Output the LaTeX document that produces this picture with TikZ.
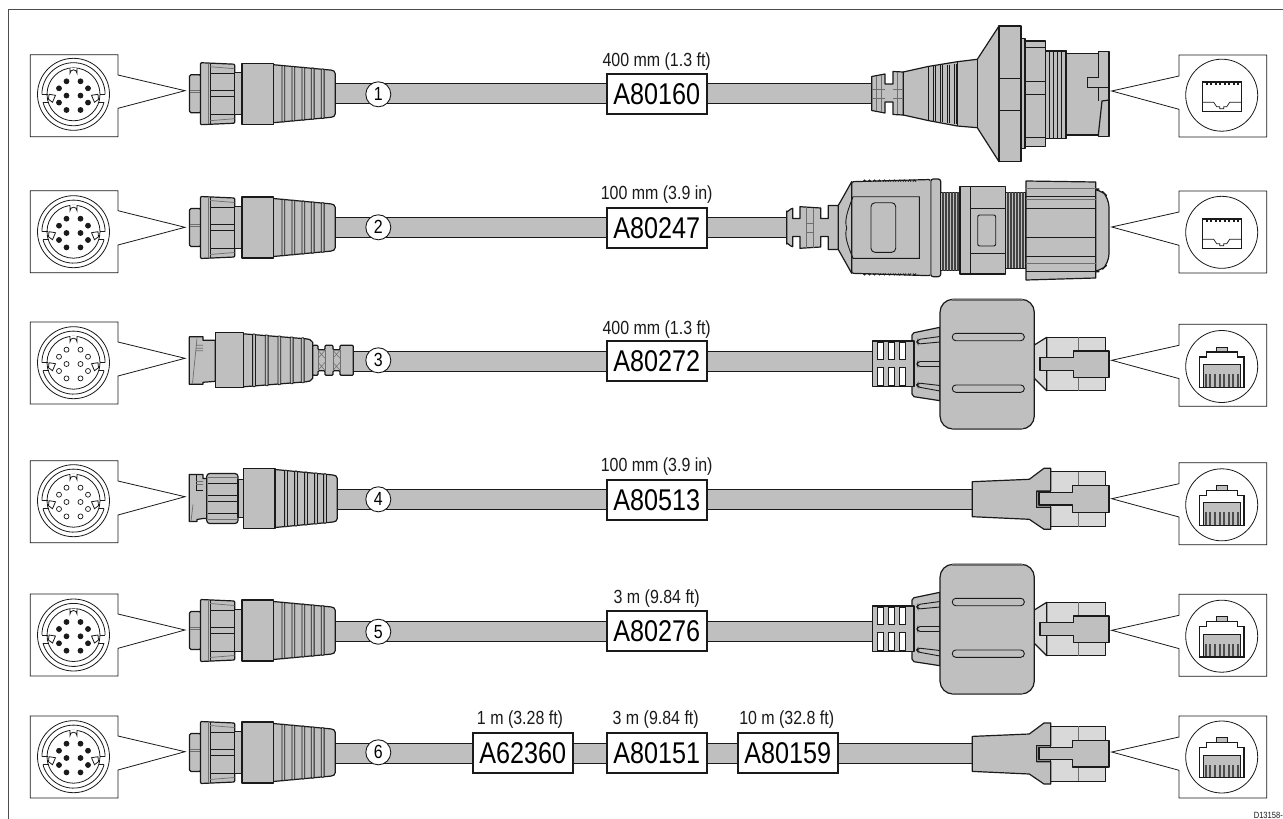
\documentclass[tikz,border=0pt]{standalone}
\usepackage{fontspec}
\setmainfont[FakeStretch=0.84]{Liberation Sans}
\definecolor{gbody}{HTML}{BFBFBF}
\definecolor{glight}{HTML}{D9D9D9}
\definecolor{gdark}{HTML}{6E6E6E}
\definecolor{ink}{HTML}{1A1A1A}
\tikzset{
  body/.style={draw=ink,fill=gbody,line width=1.2pt,line join=round},
  lightbody/.style={draw=ink,fill=glight,line width=1.2pt,line join=round},
  ln/.style={draw=ink,line width=.9pt},
  thn/.style={draw=gdark,line width=.7pt},
  insetline/.style={draw=ink,line width=.8pt,fill=white,line join=miter},
  partbox/.style={draw=ink,fill=white,line width=1.8pt,minimum width=100,minimum height=40,inner sep=0,font=\fontsize{30}{30}\selectfont},
  lenlabel/.style={inner sep=0,font=\fontsize{19}{19}\selectfont,text=ink},
  numcirc/.style={circle,draw=ink,fill=white,line width=.9pt,minimum size=25,inner sep=0,font=\fontsize{19}{19}\selectfont},
  cableo/.style={draw=ink,line width=21pt},
  cablei/.style={draw=gbody,line width=19pt}
}
% female inset: top, circle y, tip y, notch1, notch2, pin fill
\newcommand{\FemInset}[6]{
  \path[insetline] (30.3,#1) -- (118,#1) -- (118,#4) -- (185,#3) -- (118,#5) -- (118,#1+82) -- (30.3,#1+82) -- cycle;
  \begin{scope}[shift={(73.5,#2)}]
    \draw[ink,line width=.8pt] (0,0) circle [radius=36];
    \draw[ink,line width=.8pt] (-31.6,0) arc [start angle=180,end angle=360,radius=31.6];
    \draw[ink,line width=.8pt] (-30.5,8) arc [start angle=165,end angle=15,radius=31.6];
    \draw[ink,line width=.8pt] (-31.6,0) -- (-26,0) (31.6,0) -- (26,0) (-30.5,8) -- (-25,8) (30.5,8) -- (25,8);
    \draw[ink,line width=.8pt] (0,0) circle [radius=26.5];
    \path[fill=white,draw=ink,line width=.8pt] (-24.5,0) -- (-18,1) -- (-21,8) -- (-25,5) -- cycle;
    \path[fill=white,draw=ink,line width=.8pt] (24.5,0) -- (18,1) -- (21,8) -- (25,5) -- cycle;
    \path[fill=white,draw=ink,line width=.8pt] (-3.5,-26.5) -- (-3.5,-21) arc [start angle=180,end angle=360,radius=3.5] -- (3.5,-26.5);
    \foreach \px/\py in {-7/-13,7/-13,-14.5/-6,14.5/-6,-7/1.3,7/1.3,-14.5/8.3,14.5/8.3,-7/15.7,7/15.7}
      \path[draw=ink,line width=.7pt,fill=#6] (\px,\py) circle [radius=2.5];
  \end{scope}
}
% right inset frame: top
\newcommand{\RightFrame}[1]{
  \path[insetline] (1266.7,#1) -- (1179,#1) -- (1179,#1+21) -- (1111.7,#1+36) -- (1179,#1+54.3) -- (1179,#1+82) -- (1266.7,#1+82) -- cycle;
}
% white port inset: top, circle y
\newcommand{\PortA}[2]{
  \RightFrame{#1}
  \begin{scope}[shift={(1221.7,#2)}]
    \draw[ink,line width=.8pt] (0,0) circle [radius=36];
    \draw[ink,line width=1pt,fill=white] (-19,-14) rectangle (19.5,16);
    \fill[ink] (-19,-14) rectangle (19.5,-12);
    \foreach \t in {-16,-11.5,-7,-2.5,2,6.5,11,15.5} \fill[ink] (\t,-12) rectangle (\t+2.2,-10);
    \draw[ink,line width=.7pt] (-19,7) -- (-8,7) -- (-5,11.5) -- (-2,11.5) -- (-2,13.5) -- (2,13.5) -- (2,11.5) -- (5,11.5) -- (8,7) -- (19.5,7);
  \end{scope}
}
% RJ45 plug inset: top, circle y
\newcommand{\PortB}[2]{
  \RightFrame{#1}
  \begin{scope}[shift={(1221.7,#2)}]
    \draw[ink,line width=.8pt] (0,0) circle [radius=36];
    \path[draw=ink,fill=gbody,line width=.8pt] (-5,-19.5) rectangle (5.7,-14);
    \path[draw=ink,fill=white,line width=1.3pt,line join=miter] (-22.3,20.7) -- (-22.3,-9.5) -- (-15,-9.5) -- (-15,-14.5) -- (15.7,-14.5) -- (15.7,-9.5) -- (22.3,-9.5) -- (22.3,20.7) -- cycle;
    \fill[gbody] (-18.3,-2) rectangle (18.3,20);
    \draw[ink,line width=.7pt] (-18.3,20) -- (-18.3,-2) -- (18.3,-2) -- (18.3,20);
    \foreach \t in {-17,-12.4,-7.8,-3.2,1.4,6,10.6,15.2}
      \fill[gdark!70!black] (\t,7.5) rectangle (\t+2,20);
    \draw[ink,line width=1.3pt] (-22.3,20.7) -- (22.3,20.7);
  \end{scope}
}
% ribs of strain boot
\newcommand{\Rib}[2]{
  \path[draw=ink,fill=gbody,line width=.8pt,rounded corners=.8] (#1-1.4,-#2-.8) rectangle (#1+1.4,#2+.8);
}
% plug type A at centre y
\newcommand{\PlugA}[1]{
  \begin{scope}[shift={(0,#1)}]
    \path[body,rounded corners=1.5] (201,-19) -- (189.5,-19) -- (189.5,19) -- (201,19) -- cycle;
    \draw[thn] (189.5,-3.5) -- (200,-3.5) (189.5,-1) -- (200,-1);
    \path[body,rounded corners=1] (200.5,-31) -- (234.7,-29.5) -- (234.7,29.5) -- (200.5,31) -- cycle;
    \draw[ln] (210,-30.5) -- (210,30.5);
    \draw[thn,line width=1.4pt] (208.6,-30) -- (208.6,30);
    \draw[ln] (210,-20.5) -- (234.5,-20.5) (210,-3) -- (234.5,-3) (210,3) -- (234.5,3) (210,20.5) -- (234.5,20.5);
    \draw[thn] (210,-27) -- (234.5,-25) (210,27) -- (234.5,25);
    \path[body] (234.7,-21) rectangle (242,21);
    \path[body] (273.3,-29) -- (331,-23.6) to[out=0,in=90] (335.3,-20) -- (335.3,20) to[out=-90,in=0] (331,23.6) -- (273.3,29) -- cycle;
    \path[body] (242,-30.5) rectangle (273.3,30.5);
    \Rib{283.3}{27.4}\Rib{293.3}{26.5}\Rib{303.3}{25.6}\Rib{312.7}{24.8}\Rib{322.7}{23.9}
  \end{scope}
}
% plug type B
\newcommand{\PlugB}[1]{
  \begin{scope}[shift={(0,#1)}]
    \path[body] (189.3,-23.5) -- (203,-23.5) -- (203,-20) -- (215.3,-20) -- (215.3,21) -- (203,22) -- (203,24) -- (189.3,24) -- cycle;
    \draw[thn] (197,-22) -- (192.5,23) (196,-15) -- (203,-15) (196,-12) -- (203,-12) (196,-9.5) -- (203,-9.5);
    \path[body] (243.3,-26.5) -- (306,-21.5) to[out=0,in=120] (312.7,-18) -- (312.7,18) to[out=-120,in=0] (306,21.5) -- (243.3,26.5) -- cycle;
    \path[body] (215.3,-27.5) rectangle (243.3,27.5);
    \Rib{254}{25.6}\Rib{266.7}{24.6}\Rib{279.3}{23.6}\Rib{291.7}{22.6}\Rib{302.7}{21.7}
    \path[body,rounded corners=1] (312.7,-15) -- (318,-15) -- (318,-10.5) -- (325,-10.5) -- (325,-15) -- (333,-15) -- (333,-10.5) -- (340,-10.5) -- (340,-15) -- (353.3,-15) -- (353.3,15) -- (340,15) -- (340,10.5) -- (333,10.5) -- (333,15) -- (325,15) -- (325,10.5) -- (318,10.5) -- (318,15) -- (312.7,15) -- cycle;
    \draw[thn,line width=.5pt] (318,-10) -- (325,-2) (325,-10) -- (318,-2) (318,2) -- (325,10) (325,2) -- (318,10);
    \draw[thn,line width=.5pt] (333,-10) -- (340,-2) (340,-10) -- (333,-2) (333,2) -- (340,10) (340,2) -- (333,10);
    \draw[thn] (318,-10.5) -- (318,10.5) (325,-10.5) -- (325,10.5) (333,-10.5) -- (333,10.5) (340,-10.5) -- (340,10.5);
  \end{scope}
}
% plug type C
\newcommand{\PlugC}[1]{
  \begin{scope}[shift={(0,#1)}]
    \path[body] (189.3,-24) -- (203,-24) -- (203,-20) -- (207,-20) -- (207,20) -- (203,20) -- (197,21) -- (197,23) -- (189.3,23) -- cycle;
    \draw[ln] (196,-24) -- (196,-8) -- (203,-8);
    \draw[thn] (196,-17) -- (203,-17) (196,-14) -- (203,-14) (193,6) -- (191,23);
    \path[body,rounded corners=3] (206.7,-25) rectangle (238,25);
    \draw[ln] (207.5,-15) -- (237,-15) (207.5,-3) -- (237,-3) (207.5,3) -- (237,3) (207.5,15) -- (237,15);
    \draw[thn] (207.5,-21) -- (237,-21) (207.5,21) -- (237,21);
    \path[body] (238,-19) rectangle (243.3,19);
    \path[body] (275,-29) -- (333,-23.5) to[out=0,in=90] (337.3,-20) -- (337.3,20) to[out=-90,in=0] (333,23.5) -- (275,29) -- cycle;
    \path[body] (243.3,-30.3) rectangle (275,30.3);
    \Rib{286}{27.5}\Rib{296}{26.6}\Rib{306}{25.6}\Rib{316}{24.7}\Rib{325}{23.9}
  \end{scope}
}
% ferrite + RJ45 (coordinates of row 3, shifted)
\newcommand{\Ferrite}[1]{
  \begin{scope}[shift={(0,#1)}]
    \path[lightbody] (1046.7,337.3) -- (1105.7,337.3) -- (1105.7,390.7) -- (1046.7,390.7) -- cycle;
    \path[lightbody] (1034.3,345) -- (1046.7,337.3) -- (1046.7,390.7) -- (1034.3,378.3) -- cycle;
    \draw[thn] (1078.7,337.3) -- (1078.7,390.7);
    \path[body] (1040,357.7) -- (1073.3,357.7) -- (1073.3,351) -- (1109,351) -- (1109,377.7) -- (1073.3,377.7) -- (1073.3,370.7) -- (1040,370.7) -- cycle;
    \path[body] (914,332.7) -- (940,327.3) -- (940,400.7) -- (914,396.7) -- (912,394) -- (912,335) -- cycle;
    \path[body] (872.3,341) rectangle (914,386.7);
    \foreach \xx in {877.3,888.3,899.3}{
      \path[draw=ink,fill=white,line width=.8pt] (\xx,342.7) rectangle (\xx+6,359.3);
      \path[draw=ink,fill=white,line width=.8pt] (\xx,367.3) rectangle (\xx+6,385);
    }
    \path[draw=ink,line width=.9pt,rounded corners=2] (940,336.5) -- (918,339.5) -- (917,342) -- (918,344) -- (940,342);
    \path[draw=ink,line width=.9pt,rounded corners=2] (940,361.5) -- (918,361.5) -- (917,364) -- (918,366.5) -- (940,366.5);
    \path[draw=ink,line width=.9pt,rounded corners=2] (940,391) -- (918,387) -- (917,385) -- (918,383) -- (940,385.5);
    \path[body,rounded corners=13] (940,299.3) -- (1034.3,299.3) -- (1034.3,429) -- (940,429) -- cycle;
    \draw[thn,line width=1.2pt] (952,300) -- (1023,300) (952,428.3) -- (1023,428.3);
    \path[draw=ink,fill=gbody,line width=.9pt,rounded corners=3.5] (952.3,333.3) rectangle (1024.3,340.7);
    \path[draw=ink,fill=gbody,line width=.9pt,rounded corners=3.5] (952.3,385) rectangle (1024.3,392.3);
  \end{scope}
}
% overmould RJ45 (coordinates of row 4, shifted)
\newcommand{\Moulded}[1]{
  \begin{scope}[shift={(0,#1)}]
    \path[lightbody] (1046,471.7) -- (1105.7,471.7) -- (1105.7,526.7) -- (1046,526.7) -- cycle;
    \draw[thn] (1078,471.7) -- (1078,526.7);
    \path[body] (972.3,481.7) -- (1029.3,479.3) -- (1044,468.3) -- (1050.7,468.3) -- (1050.7,491) -- (1036.7,491) -- (1036.7,507) -- (1050.7,507) -- (1050.7,529.3) -- (1044,529.3) -- (1029.3,519.3) -- (972.3,516.7) -- cycle;
    \path[fill=gdark!60!gbody,draw=ink,line width=.8pt] (1036.7,491) -- (1050.7,491) -- (1050.7,507) -- (1036.7,507) -- cycle;
    \path[body] (1039,492.7) -- (1072.3,492.7) -- (1072.3,485.7) -- (1109,485.7) -- (1109,512.3) -- (1072.3,512.3) -- (1072.3,505) -- (1039,505) -- cycle;
  \end{scope}
}
\begin{document}
\begin{tikzpicture}[x=1pt,y=-1pt]
\useasboundingbox (0,0) rectangle (1283,819);
\fill[white] (0,0) rectangle (1283,819);
\draw[gdark!70!black,line width=1.5pt] (8.5,819) -- (8.5,9.5) -- (1283,9.5);

% cable end coordinates
\coordinate (c1a) at (334,93.5);   \coordinate (c1b) at (873,93.5);
\coordinate (c2a) at (334,227.5);  \coordinate (c2b) at (788,227.5);
\coordinate (c3a) at (352,361);    \coordinate (c3b) at (874,361);
\coordinate (c4a) at (336,499);    \coordinate (c4b) at (974,499);
\coordinate (c5a) at (334,631);    \coordinate (c5b) at (874,631);
\coordinate (c6a) at (334,753);    \coordinate (c6b) at (974,753);
\foreach \n in {1,...,6}{
  \draw[cableo] (c\n a) -- (c\n b);
  \draw[cablei] (c\n a) -- (c\n b);
}

% left insets
\FemInset{54.7}{94.3}{90.7}{75}{108.3}{ink}
\FemInset{190.7}{231.7}{227.3}{210.7}{245}{ink}
\FemInset{322}{362.7}{358.3}{342}{376}{white}
\FemInset{460.7}{500.7}{496.7}{481}{515}{white}
\FemInset{594}{635}{630}{614}{648.3}{ink}
\FemInset{716}{756.7}{751.7}{736}{770}{ink}

% right insets
\PortA{55}{95.2}
\PortA{191}{232.3}
\PortB{324.3}{366.5}
\PortB{462.7}{504.8}
\PortB{594.3}{636.2}
\PortB{716}{757}

% left plugs
\PlugA{93.7}
\PlugA{227.5}
\PlugB{360.3}
\PlugC{498.5}
\PlugA{630.5}
\PlugA{752.5}

% right connector row 1
\path[body] (903.3,72) -- (928,66.5) -- (957.3,61.7) -- (977.3,59.3) -- (999,26) -- (999,161.7) -- (977.3,127.7) -- (957.3,126) -- (928,120.5) -- (903.3,115) -- cycle;
\foreach \xx/\hh in {933/27.5,940/28.2,947/29,954/30}{
  \draw[thn,draw=ink] (\xx,93.5-\hh) -- (\xx,93.5+\hh);
  \draw[thn,draw=ink] (\xx+2.5,93.5-\hh) -- (\xx+2.5,93.5+\hh);
}
\draw[ln] (928,66.5) -- (928,120.5) (957.3,61.7) -- (957.3,126) (977.3,59.3) -- (977.3,127.7);
\path[body] (871.7,76.5) -- (885,74) -- (885,84) -- (893,84) -- (893,71.5) -- (903.3,72) -- (903.3,115) -- (893,114.5) -- (893,102) -- (885,102) -- (885,113) -- (871.7,110.5) -- cycle;
\draw[thn] (876,76) -- (876,111) (881,75) -- (881,112) (871.7,89) -- (885,89) (871.7,98) -- (885,98) (893,89) -- (903,89) (893,98) -- (903,98) (897,72) -- (897,114);
\path[body] (999,26) rectangle (1021,161.7);
\draw[ln] (999,78.3) -- (1021,78.3) (999,110) -- (1021,110);
\path[body] (1021,38.3) rectangle (1025,148.3);
\path[body] (1025,41) rectangle (1045.7,146.7);
\draw[ln] (1025,47) -- (1045.7,47) (1025,81.5) -- (1045.7,81.5) (1025,94) -- (1045.7,94) (1025,137) -- (1045.7,137);
\path[body] (1045.7,51) rectangle (1066.7,138.3);
\foreach \xx in {1049,1053,1057,1061,1065}{ \draw[thn,draw=ink] (\xx,51) -- (\xx,138.3); }
\path[body] (1066.7,53.3) rectangle (1098.3,135);
\path[body] (1098.3,51.7) -- (1109,51.7) -- (1109,136.7) -- (1098.3,136.7) -- cycle;
\fill[gbody] (1087.8,77.8) rectangle (1108.4,86.8);
\fill[gbody] (1097,54) rectangle (1099.5,86.8);
\path[draw=ink,line width=1.2pt] (1098.3,53) -- (1098.3,77.3) -- (1087.3,77.3) -- (1087.3,87.3) -- (1109,87.3);
\fill[gbody] (1097,100.5) rectangle (1099.5,134);
\path[draw=ink,line width=1.2pt] (1109,100) -- (1102,101) -- (1098.3,135);

% right connector row 2
\path[body] (838.3,205.5) -- (851.7,181.7) -- (851.7,273.3) -- (838.3,249.5) -- cycle;
\path[body] (786.7,211) to[out=-90,in=180] (792.7,208.3) -- (792.7,218.5) -- (800,218.5) -- (800,206.7) -- (820.7,208) -- (820.7,218.5) -- (828.3,218.5) -- (828.3,205.5) -- (838.3,205.5) -- (838.3,249.5) -- (828.3,249.5) -- (828.3,236.5) -- (820.7,236.5) -- (820.7,247) -- (800,248.3) -- (800,236.5) -- (792.7,236.5) -- (792.7,246.7) to[out=180,in=90] (786.7,244) -- cycle;
\draw[thn] (806,207) -- (806,248) (813,207.5) -- (813,247.5) (806,223) -- (813,223) (806,232) -- (813,232);
\path[body,rounded corners=2] (851.7,181.7) -- (930.7,179.5) -- (930.7,275.7) -- (851.7,273.3) -- cycle;
\foreach \xx in {863,868,873,878,883,888,893,898,903,908,913}{
  \draw[ln] (\xx,181.6) arc [start angle=180,end angle=360,radius=1.5];
  \draw[ln] (\xx,273.6) arc [start angle=180,end angle=0,radius=1.5];
}
\draw[ln] (919.3,196.7) -- (853,196.7) .. controls (848,210) and (844,220) .. (846.7,228) .. controls (844,236) and (848,246) .. (853,258.3) -- (919.3,258.3) -- cycle;
\draw[ln,rounded corners=4] (871,202.7) rectangle (895.7,252.3);
\path[body,rounded corners=2.5] (930.7,179) rectangle (940.7,276.7);
\draw[thn] (930.7,180) -- (930.7,276);
\path[body] (940.7,192.3) rectangle (960,270.7);
\foreach \xx in {943,946,949,952,955,958}{ \draw[gdark!60!black,line width=1.1pt] (\xx,192.3) -- (\xx,270.7); }
\path[body] (960,186.7) rectangle (1005.7,274);
\draw[ln] (970,186.7) -- (970,274) (970,208.3) -- (1005.7,208.3) (970,253.3) -- (1005.7,253.3);
\draw[ln,rounded corners=2] (977.7,215) rectangle (995.7,246);
\path[body] (1005.7,192.3) rectangle (1026,268.3);
\foreach \xx in {1008,1011,1014,1017,1020,1023}{ \draw[gdark!60!black,line width=1.1pt] (\xx,192.3) -- (\xx,268.3); }
\path[body,rounded corners=9] (1090,189) -- (1100,189) -- (1109,198) -- (1109,263) -- (1100,271.7) -- (1090,271.7) -- cycle;
\path[body] (1026,181) -- (1095.7,182) -- (1095.7,278) -- (1026,280) -- cycle;
\draw[ln] (1026,196.7) -- (1095.7,196.7) (1026,208.3) -- (1095.7,208.3) (1026,237.3) -- (1095.7,237.3) (1026,256.7) -- (1095.7,256.7) (1026,271.7) -- (1095.7,271.7);
\draw[thn] (1026,188.5) -- (1095.7,188.5) (1026,199) -- (1095.7,199) (1026,263.3) -- (1095.7,263.3);

% right connectors rows 3..6
\Ferrite{0}
\Moulded{0}
\Ferrite{265}
\Moulded{254.7}

% cable numbers
\node[numcirc] (n1) at (378.3,94.3) {1};
\node[numcirc] (n2) at (378.3,227.3) {2};
\node[numcirc] (n3) at (378.3,360.3) {3};
\node[numcirc] (n4) at (378.3,499.3) {4};
\node[numcirc] (n5) at (378.3,631.7) {5};
\node[numcirc] (n6) at (378.3,752.3) {6};

% part boxes
\node[partbox] (p1) at (656.7,94.3) {A80160};
\node[partbox] (p2) at (656.7,228) {A80247};
\node[partbox] (p3) at (656.7,361.3) {A80272};
\node[partbox] (p4) at (656.7,500) {A80513};
\node[partbox] (p5) at (656.7,631.3) {A80276};
\node[partbox] (p6a) at (522.8,753) {A62360};
\node[partbox] (p6b) at (656.8,753) {A80151};
\node[partbox] (p6c) at (787.8,753) {A80159};

% lengths
\node[lenlabel] (l1) at (656.7,61.7) {400 mm (1.3 ft)};
\node[lenlabel] (l2) at (656.7,195) {100 mm (3.9 in)};
\node[lenlabel] (l3) at (656.7,329.3) {400 mm (1.3 ft)};
\node[lenlabel] (l4) at (656.7,466.7) {100 mm (3.9 in)};
\node[lenlabel] (l5) at (656.7,598.3) {3 m (9.84 ft)};
\node[lenlabel] (l6a) at (520,720) {1 m (3.28 ft)};
\node[lenlabel] (l6b) at (655.7,720) {3 m (9.84 ft)};
\node[lenlabel] (l6c) at (786.7,720) {10 m (32.8 ft)};

\node[inner sep=0,anchor=east,font=\fontsize{9}{9}\selectfont,text=ink] (ref) at (1283,815) {D13158-};
\end{tikzpicture}
\end{document}
